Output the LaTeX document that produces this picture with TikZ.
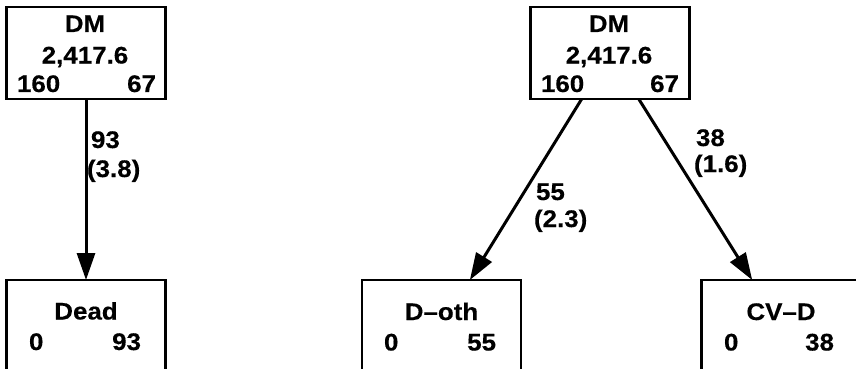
\documentclass[tikz,border=0pt]{standalone}
\usepackage{fontspec}
\setmainfont{Liberation Sans}[BoldFeatures={FakeStretch=1.08,FakeBold=0.4}]
\usetikzlibrary{arrows.meta}

\tikzset{
  statebox/.style={draw=black, line width=2.2pt, minimum width=159pt,
    minimum height=92pt, inner sep=0pt, outer sep=0pt},
  boxtext/.style={inner sep=0pt, outer sep=0pt, anchor=base,
    font=\fontsize{24}{28.8}\selectfont\bfseries},
  lefttext/.style={boxtext, anchor=base west},
  righttext/.style={boxtext, anchor=base east},
  flow/.style={line width=3pt, -{Triangle[length=27pt,width=18pt]}},
}

\begin{document}
\begin{tikzpicture}[x=1pt, y=-1pt]
\useasboundingbox (0,0) rectangle (856,369);
\clip (0,0) rectangle (856,369);

% ---- left model: DM -> Dead ----
\node[statebox] (dmA) at (86,53) {};
\node[boxtext] (dmAname) at (85,32) {DM};
\node[boxtext] (dmApy) at (85,63.5) {2,417.6};
\node[lefttext] (dmAin) at (17,92) {160};
\node[righttext] (dmAout) at (156,92) {67};

\node[statebox] (dead) at (86,326) {};
\node[boxtext] (deadname) at (86,319.5) {Dead};
\node[lefttext] (deadin) at (29,350) {0};
\node[righttext] (deadout) at (141,350) {93};

\draw[flow] (dmA) -- (dead);
\node[lefttext] (trA1) at (91,148) {93};
\node[lefttext] (trA2) at (87,177) {(3.8)};

% ---- right model: DM -> D-oth, DM -> CV-D ----
\node[statebox] (dmB) at (610,53) {};
\node[boxtext] (dmBname) at (609,32) {DM};
\node[boxtext] (dmBpy) at (609,63.5) {2,417.6};
\node[lefttext] (dmBin) at (541,92) {160};
\node[righttext] (dmBout) at (679,92) {67};

\node[statebox] (doth) at (441.5,326) {};
\node[boxtext] (dothname) at (441.5,320) {D\textendash oth};
\node[lefttext] (dothin) at (384,350.5) {0};
\node[righttext] (dothout) at (496,350.5) {55};

\node[statebox] (cvd) at (781,326) {};
\node[boxtext] (cvdname) at (781,320) {CV\textendash D};
\node[lefttext] (cvdin) at (724,350.5) {0};
\node[righttext] (cvdout) at (834,350.5) {38};

\draw[flow] (dmB) -- (doth);
\draw[flow] (dmB) -- (cvd);

\node[lefttext] (trB1) at (536,200) {55};
\node[lefttext] (trB2) at (534,227) {(2.3)};
\node[lefttext] (trC1) at (696,146) {38};
\node[lefttext] (trC2) at (694,172) {(1.6)};
\end{tikzpicture}
\end{document}
